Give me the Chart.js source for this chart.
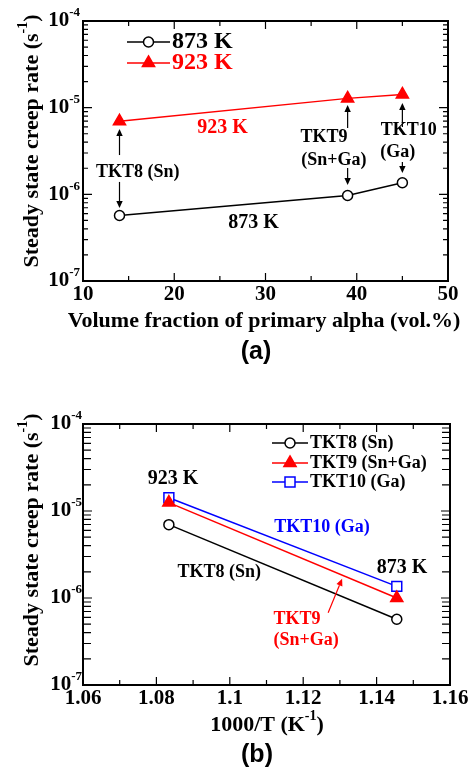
<!DOCTYPE html>
<html>
<head>
<meta charset="utf-8">
<script src="https://cdn.jsdelivr.net/npm/chart.js@4.4.0/dist/chart.umd.min.js"></script>
<style>
  html, body { margin: 0; padding: 0; background: #fff; }
  #wrapA { position: absolute; left: 0; top: 0; width: 472px; height: 385px; }
  #wrapB { position: absolute; left: 0; top: 385px; width: 472px; height: 386px; }
</style>
</head>
<body>
<div id="wrapA"><canvas id="chartA" width="472" height="385"></canvas></div>
<div id="wrapB"><canvas id="chartB" width="472" height="386"></canvas></div>
<script>
// (a) creep rate vs volume fraction of primary alpha
const volFraction = [14, 39, 45];
const rate873 = [5.7e-7, 9.7e-7, 1.36e-6];
const rate923 = [6.97e-6, 1.28e-5, 1.42e-5];
const xTicksA = [10, 20, 30, 40, 50];
const xTickLabelsA = ['10', '20', '30', '40', '50'];

// (b) creep rate vs 1000/T
const invTemp = [1.0834, 1.1455];
const tkt8 = [6.97e-6, 5.7e-7];
const tkt9 = [1.25e-5, 1.0e-6];
const tkt10 = [1.42e-5, 1.36e-6];
const xTicksB = [1.06, 1.08, 1.1, 1.12, 1.14, 1.16];
const xTickLabelsB = ['1.06', '1.08', '1.1', '1.12', '1.14', '1.16'];

// shared log axis decades (exponents)
const yDecades = [-7, -6, -5, -4];

const SERIF = '"Liberation Serif", "Times New Roman", serif';
const RED = '#ff0000';
const BLUE = '#0000ff';

function font(size) { return 'bold ' + size + 'px ' + SERIF; }

// draws text made of [text, isSuperscript] parts
function richText(ctx, parts, x, y, align, size, color) {
  ctx.save();
  ctx.fillStyle = color || '#000';
  ctx.textBaseline = 'middle';
  ctx.textAlign = 'left';
  const supSize = Math.round(size * 0.62);
  let w = 0;
  parts.forEach(p => { ctx.font = font(p[1] ? supSize : size); w += ctx.measureText(p[0]).width; });
  let cx = align === 'right' ? x - w : align === 'center' ? x - w / 2 : x;
  parts.forEach(p => {
    ctx.font = font(p[1] ? supSize : size);
    ctx.fillText(p[0], cx, p[1] ? y - size * 0.38 : y);
    cx += ctx.measureText(p[0]).width;
  });
  ctx.restore();
}

function arrow(ctx, x1, y1, x2, y2, color) {
  const ang = Math.atan2(y2 - y1, x2 - x1);
  const len = 7, hw = 3.2;
  ctx.save();
  ctx.strokeStyle = color; ctx.fillStyle = color; ctx.lineWidth = 1.2;
  ctx.beginPath();
  ctx.moveTo(x1, y1);
  ctx.lineTo(x2 - Math.cos(ang) * len, y2 - Math.sin(ang) * len);
  ctx.stroke();
  ctx.beginPath();
  ctx.moveTo(x2, y2);
  ctx.lineTo(x2 - Math.cos(ang) * len - Math.sin(ang) * hw, y2 - Math.sin(ang) * len + Math.cos(ang) * hw);
  ctx.lineTo(x2 - Math.cos(ang) * len + Math.sin(ang) * hw, y2 - Math.sin(ang) * len - Math.cos(ang) * hw);
  ctx.closePath();
  ctx.fill();
  ctx.restore();
}

function marker(ctx, style, x, y, color, fill) {
  ctx.save();
  ctx.strokeStyle = color; ctx.fillStyle = fill; ctx.lineWidth = 1.5;
  ctx.beginPath();
  if (style === 'circle') ctx.arc(x, y, 5, 0, Math.PI * 2);
  else if (style === 'rect') ctx.rect(x - 5, y - 5, 10, 10);
  else { ctx.moveTo(x, y - 7); ctx.lineTo(x + 6.1, y + 3.5); ctx.lineTo(x - 6.1, y + 3.5); ctx.closePath(); }
  ctx.fill(); ctx.stroke();
  ctx.restore();
}

// frame, inward ticks, tick labels, titles, legend and annotations
const decorPlugin = {
  id: 'decor',
  afterDatasetsDraw(chart, args, o) {
    const { ctx, chartArea: a, scales: { x, y } } = chart;
    ctx.save();
    ctx.strokeStyle = '#000';
    ctx.lineWidth = 1.2;
    const tick = (px, len, vertical) => {
      ctx.beginPath();
      if (vertical) {
        ctx.moveTo(px, a.bottom); ctx.lineTo(px, a.bottom - len);
        ctx.moveTo(px, a.top); ctx.lineTo(px, a.top + len);
      } else {
        ctx.moveTo(a.left, px); ctx.lineTo(a.left + len, px);
        ctx.moveTo(a.right, px); ctx.lineTo(a.right - len, px);
      }
      ctx.stroke();
    };
    o.xTicks.forEach((v, i) => {
      tick(x.getPixelForValue(v), 8, true);
      if (i > 0) tick(x.getPixelForValue((v + o.xTicks[i - 1]) / 2), 5, true);
    });
    yDecades.forEach((d, i) => {
      tick(y.getPixelForValue(Math.pow(10, d)), 9, false);
      if (i < yDecades.length - 1) {
        for (let k = 2; k <= 9; k++) tick(y.getPixelForValue(k * Math.pow(10, d)), o.yMinorLen, false);
      }
    });
    ctx.lineWidth = 2;
    ctx.strokeRect(a.left, a.top, a.right - a.left, a.bottom - a.top);
    ctx.restore();

    // tick labels
    o.xTicks.forEach((v, i) => {
      richText(ctx, [[o.xLabels[i]]], x.getPixelForValue(v), a.bottom + 14, 'center', 21);
    });
    yDecades.forEach(d => {
      richText(ctx, [['10'], [String(d), true]], a.left - o.yLabelGap, y.getPixelForValue(Math.pow(10, d)), 'right', 21);
    });

    // axis titles
    richText(ctx, o.xTitle, o.xTitlePos[0], o.xTitlePos[1], 'center', o.xTitleSize);
    ctx.save();
    ctx.translate(32, o.yTitleMid);
    ctx.rotate(-Math.PI / 2);
    richText(ctx, [['Steady state creep rate (s'], ['-1', true], [')']], 0, 0, 'center', 22);
    ctx.restore();

    // panel label
    ctx.save();
    ctx.font = 'bold 25px "Liberation Sans", Arial, sans-serif';
    ctx.fillStyle = '#000';
    ctx.textAlign = 'center';
    ctx.textBaseline = 'middle';
    ctx.fillText(o.panel[0], o.panel[1], o.panel[2]);
    ctx.restore();

    // legend
    o.legend.forEach(l => {
      ctx.save();
      ctx.strokeStyle = l.color; ctx.lineWidth = 1.5;
      ctx.beginPath(); ctx.moveTo(l.x0, l.y); ctx.lineTo(l.x1, l.y); ctx.stroke();
      ctx.restore();
      marker(ctx, l.style, (l.x0 + l.x1) / 2, l.y, l.color, l.fill);
      richText(ctx, [[l.text]], l.x1 + 2, l.y, 'left', l.size, l.textColor);
    });

    // annotations in data coordinates
    o.notes.forEach(n => {
      richText(ctx, [[n.t]], x.getPixelForValue(n.x), y.getPixelForValue(n.y), 'center', n.size, n.color);
    });
    o.arrows.forEach(r => {
      arrow(ctx, x.getPixelForValue(r[0]), y.getPixelForValue(r[1]),
        x.getPixelForValue(r[2]), y.getPixelForValue(r[3]), r[4] || '#000');
    });
  }
};
Chart.register(decorPlugin);

function series(xs, ys, color, style, fill, radius) {
  return {
    data: xs.map((v, i) => ({ x: v, y: ys[i] })),
    borderColor: color,
    borderWidth: 1.5,
    pointStyle: style,
    pointRadius: radius,
    pointBackgroundColor: fill,
    pointBorderColor: color,
    pointBorderWidth: 1.5,
    tension: 0
  };
}

function baseOptions(padding, xMin, xMax, decor) {
  return {
    responsive: false,
    animation: false,
    layout: { padding },
    plugins: { legend: { display: false }, tooltip: { enabled: false }, decor },
    scales: {
      x: { type: 'linear', display: false, min: xMin, max: xMax },
      y: { type: 'logarithmic', display: false, min: 1e-7, max: 1e-4 }
    }
  };
}

new Chart(document.getElementById('chartA').getContext('2d'), {
  type: 'line',
  data: {
    datasets: [
      series(volFraction, rate873, '#000', 'circle', '#fff', 5),
      series(volFraction, rate923, RED, 'triangle', RED, 7)
    ]
  },
  options: baseOptions({ left: 83, right: 24, top: 21, bottom: 104 }, 10, 50, {
    xTicks: xTicksA,
    xLabels: xTickLabelsA,
    yMinorLen: 5,
    yLabelGap: 3,
    xTitle: [['Volume fraction of primary alpha (vol.%)']],
    xTitlePos: [264, 321],
    xTitleSize: 22,
    yTitleMid: 141,
    panel: ['(a)', 256, 352],
    legend: [
      { x0: 127, x1: 170, y: 42, color: '#000', fill: '#fff', style: 'circle', text: '873 K', textColor: '#000', size: 24 },
      { x0: 127, x1: 170, y: 63, color: RED, fill: RED, style: 'triangle', text: '923 K', textColor: RED, size: 24 }
    ],
    notes: [
      { t: '923 K', x: 25.3, y: 5.82e-6, size: 20, color: RED },
      { t: '873 K', x: 28.7, y: 4.67e-7, size: 20, color: '#000' },
      { t: 'TKT8 (Sn)', x: 16.0, y: 1.81e-6, size: 18, color: '#000' },
      { t: 'TKT9', x: 36.4, y: 4.59e-6, size: 18, color: '#000' },
      { t: '(Sn+Ga)', x: 37.5, y: 2.49e-6, size: 18, color: '#000' },
      { t: 'TKT10', x: 45.7, y: 5.52e-6, size: 18, color: '#000' },
      { t: '(Ga)', x: 44.5, y: 3.08e-6, size: 18, color: '#000' }
    ],
    arrows: [
      [14, 2.84e-6, 14, 5.68e-6],
      [14, 1.39e-6, 14, 6.95e-7],
      [39, 5.82e-6, 39, 1.07e-5],
      [39, 2.01e-6, 39, 1.28e-6],
      [45, 5.98e-6, 45, 1.13e-5],
      [45, 2.36e-6, 45, 1.76e-6]
    ]
  })
});

new Chart(document.getElementById('chartB').getContext('2d'), {
  type: 'line',
  data: {
    datasets: [
      series(invTemp, tkt8, '#000', 'circle', '#fff', 5),
      series(invTemp, tkt9, RED, 'triangle', RED, 7),
      series(invTemp, tkt10, BLUE, 'rect', '#fff', 7)
    ]
  },
  options: baseOptions({ left: 83, right: 22, top: 39, bottom: 86 }, 1.06, 1.16, {
    xTicks: xTicksB,
    xLabels: xTickLabelsB,
    yMinorLen: 8,
    yLabelGap: 1,
    xTitle: [['1000/T (K'], ['-1', true], [')']],
    xTitlePos: [267, 340],
    xTitleSize: 22,
    yTitleMid: 155,
    panel: ['(b)', 257, 370],
    legend: [
      { x0: 272, x1: 308, y: 58, color: '#000', fill: '#fff', style: 'circle', text: 'TKT8 (Sn)', textColor: '#000', size: 18 },
      { x0: 272, x1: 308, y: 78, color: RED, fill: RED, style: 'triangle', text: 'TKT9 (Sn+Ga)', textColor: '#000', size: 18 },
      { x0: 272, x1: 308, y: 97, color: BLUE, fill: '#fff', style: 'rect', text: 'TKT10 (Ga)', textColor: '#000', size: 18 }
    ],
    notes: [
      { t: '923 K', x: 1.0845, y: 2.35e-5, size: 20, color: '#000' },
      { t: '873 K', x: 1.1469, y: 2.22e-6, size: 20, color: '#000' },
      { t: 'TKT10 (Ga)', x: 1.1251, y: 6.41e-6, size: 18, color: BLUE },
      { t: 'TKT8 (Sn)', x: 1.0971, y: 1.95e-6, size: 18, color: '#000' },
      { t: 'TKT9', x: 1.1183, y: 5.75e-7, size: 18, color: RED },
      { t: '(Sn+Ga)', x: 1.1208, y: 3.30e-7, size: 18, color: RED }
    ],
    arrows: [
      [1.1268, 6.76e-7, 1.1306, 1.66e-6, RED]
    ]
  })
});
</script>
</body>
</html>
